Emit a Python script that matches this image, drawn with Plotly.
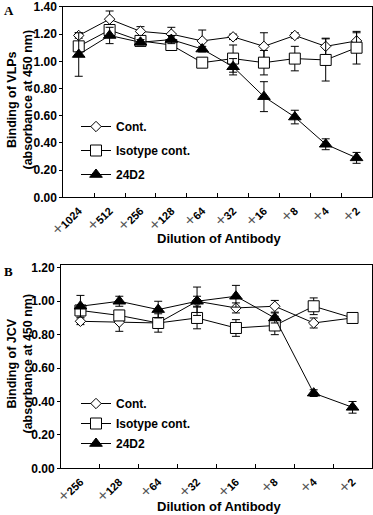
import plotly.graph_objects as go

# ---------------- data ----------------
dil_A = ["1024", "512", "256", "128", "64", "32", "16", "8", "4", "2"]
A_cont = [1.19, 1.31, 1.22, 1.20, 1.15, 1.18, 1.11, 1.19, 1.11, 1.15]
A_cont_err = [0.02, 0.06, 0.035, 0.05, 0.08, 0.02, 0.10, 0.02, 0.06, 0.06]
A_iso = [1.11, 1.23, 1.15, 1.12, 0.99, 1.02, 0.99, 1.02, 1.01, 1.10]
A_iso_err = [0.03, 0.04, 0.03, 0.03, 0.02, 0.10, 0.09, 0.09, 0.155, 0.12]
A_24D2 = [1.05, 1.19, 1.14, 1.16, 1.09, 0.96, 0.74, 0.59, 0.39, 0.29]
A_24D2_err = [0.16, 0.06, 0.02, 0.03, 0.02, 0.06, 0.11, 0.05, 0.04, 0.04]

dil_B = ["256", "128", "64", "32", "16", "8", "4", "2"]
B_cont = [0.88, 0.875, 0.87, 1.00, 0.96, 0.97, 0.87, 0.90]
B_cont_err = [0.02, 0.055, 0.03, 0.03, 0.03, 0.035, 0.03, 0.02]
B_iso = [0.945, 0.915, 0.87, 0.90, 0.84, 0.855, 0.97, 0.90]
B_iso_err = [0.03, 0.03, 0.055, 0.065, 0.05, 0.055, 0.05, 0.03]
B_24D2 = [0.97, 1.00, 0.95, 1.00, 1.03, 0.90, 0.45, 0.365]
B_24D2_err = [0.065, 0.03, 0.05, 0.085, 0.065, 0.03, 0.02, 0.035]

y_ticks_A = [0.0, 0.2, 0.4, 0.6, 0.8, 1.0, 1.2, 1.4]
y_ticks_B = [0.0, 0.2, 0.4, 0.6, 0.8, 1.0, 1.2]

series_names = ["Cont.", "Isotype cont.", "24D2"]

# ---------------- styles ----------------
FONT = "Liberation Sans, Arial, sans-serif"
SERIF = "Liberation Serif, Times New Roman, serif"
W, H = 373, 515
styles = [
    dict(symbol="diamond", size=8, color="white"),
    dict(symbol="square", size=11, color="white"),
    dict(symbol="triangle-up", size=11, color="black"),
]


def px_x(p):
    return p / W


def px_y(p):
    return 1 - p / H


def tick_text(vals):
    return ["<span style='font-size:17px;font-weight:normal;color:#555'>+</span>" + v for v in vals]


fig = go.Figure()

panels = [
    ("x", "y", "legend", "a", dil_A, [(A_cont, A_cont_err), (A_iso, A_iso_err), (A_24D2, A_24D2_err)]),
    ("x2", "y2", "legend2", "b", dil_B, [(B_cont, B_cont_err), (B_iso, B_iso_err), (B_24D2, B_24D2_err)]),
]

for xa, ya, lg, grp, cats, data in panels:
    for i, (vals, errs) in enumerate(data):
        st = styles[i]
        fig.add_trace(go.Scatter(
            x=cats, y=vals, xaxis=xa, yaxis=ya, legend=lg,
            legendgroup=f"{grp}{i}",
            name=series_names[i], mode="lines+markers",
            line=dict(color="black", width=1),
            marker=dict(symbol=st["symbol"], size=st["size"], color=st["color"],
                        line=dict(color="black", width=1)),
            error_y=dict(type="data", array=errs, visible=True, color="black",
                         thickness=1, width=4),
            cliponaxis=False,
        ))

axis_common = dict(
    showgrid=False, zeroline=False, showline=True, linecolor="black", linewidth=1,
    mirror=True, automargin=False, ticklabeloverflow="allow",
)
xaxis_common = dict(
    **axis_common, type="category", tickson="boundaries", ticks="inside", ticklen=4,
    tickcolor="black", tickangle=-45, ticklabelshift=0, ticklabelstandoff=2,
    tickfont=dict(size=11, family=FONT, weight="bold"),
)
yaxis_common = dict(
    **axis_common, tickformat=".2f", ticks="outside", ticklen=3, tickcolor="black",
    tickfont=dict(size=12, family=FONT, weight="bold"),
)

fig.update_layout(
    width=W, height=H,
    margin=dict(l=0, r=0, t=0, b=0, autoexpand=False),
    paper_bgcolor="white", plot_bgcolor="white",
    font=dict(family=FONT, color="black", size=12),
    xaxis=dict(**xaxis_common, domain=[px_x(63.3), px_x(372)], anchor="y",
               categoryorder="array", categoryarray=dil_A,
               tickvals=dil_A, ticktext=tick_text(dil_A), range=[-0.5, 9.5]),
    yaxis=dict(**yaxis_common, domain=[px_y(197.3), px_y(6.5)], anchor="x",
               range=[0, 1.403], tickvals=y_ticks_A),
    xaxis2=dict(**xaxis_common, domain=[px_x(61), px_x(372)], anchor="y2",
                categoryorder="array", categoryarray=dil_B,
                tickvals=dil_B, ticktext=tick_text(dil_B), range=[-0.5, 7.5]),
    yaxis2=dict(**yaxis_common, domain=[px_y(468.3), px_y(264.5)], anchor="x2",
                range=[0, 1.22], tickvals=y_ticks_B),
    legend=dict(x=px_x(76), y=px_y(112), xanchor="left", yanchor="top",
                bgcolor="rgba(0,0,0,0)", font=dict(size=12, family=FONT, weight="bold"),
                tracegroupgap=5),
    legend2=dict(x=px_x(76), y=px_y(389), xanchor="left", yanchor="top",
                 bgcolor="rgba(0,0,0,0)", font=dict(size=12, family=FONT, weight="bold"),
                 tracegroupgap=1),
    showlegend=True,
    annotations=[
        dict(text="<b>A</b>", x=px_x(2), y=px_y(1), xref="paper", yref="paper",
             xanchor="left", yanchor="top", showarrow=False,
             font=dict(family=SERIF, size=13)),
        dict(text="<b>B</b>", x=px_x(2), y=px_y(262), xref="paper", yref="paper",
             xanchor="left", yanchor="top", showarrow=False,
             font=dict(family=SERIF, size=13)),
        dict(text="<b>Dilution of Antibody</b>", x=px_x(219), y=px_y(239),
             xref="paper", yref="paper", xanchor="center", yanchor="middle",
             showarrow=False, font=dict(size=13)),
        dict(text="<b>Dilution of Antibody</b>", x=px_x(219), y=px_y(506),
             xref="paper", yref="paper", xanchor="center", yanchor="middle",
             showarrow=False, font=dict(size=13)),
        dict(text="<b>Binding of VLPs<br>(absorbance at 450 nm)</b>", x=px_x(19.5), y=px_y(100),
             xref="paper", yref="paper", xanchor="center", yanchor="middle",
             textangle=-90, showarrow=False, font=dict(size=12.5)),
        dict(text="<b>Binding of JCV<br>(absorbance at 450 nm)</b>", x=px_x(19.5), y=px_y(364),
             xref="paper", yref="paper", xanchor="center", yanchor="middle",
             textangle=-90, showarrow=False, font=dict(size=12.5)),
    ],
)

fig.write_html("out.html", config={"displayModeBar": False},
               post_script="document.body.style.margin='0';")
